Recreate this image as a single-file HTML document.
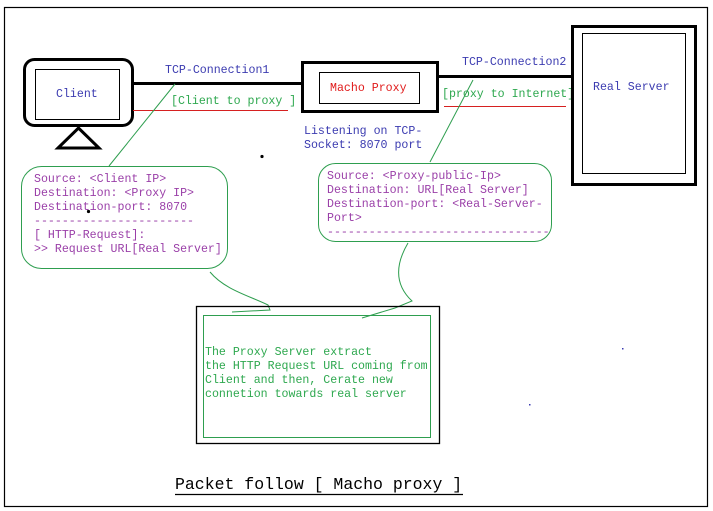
<!DOCTYPE html>
<html><head><meta charset="utf-8"><style>
html,body{margin:0;padding:0;background:#fff;}
svg{display:block;}
text{font-family:"Liberation Mono",monospace;font-size:11.6px;}
.b{fill:#3b3bb0}.g{fill:#2ea84f}.p{fill:#9a3fa8}.r{fill:#e01b1b}
</style></head><body>
<svg width="713" height="511" viewBox="0 0 713 511" xmlns="http://www.w3.org/2000/svg">
<rect x="0" y="0" width="713" height="511" fill="#fff"/>
<rect x="4.5" y="7.5" width="703" height="499" fill="none" stroke="#000" stroke-width="1.2"/>
<rect x="24.5" y="59.5" width="108" height="66" rx="10" fill="none" stroke="#000" stroke-width="3"/>
<rect x="35.5" y="69.5" width="84" height="50" fill="none" stroke="#000" stroke-width="1"/>
<polygon points="58,148 99,148 78.5,128" fill="none" stroke="#000" stroke-width="3"/>
<text x="56" y="97" class="b">Client</text>
<line x1="133" y1="83.5" x2="302" y2="83.5" stroke="#000" stroke-width="3"/>
<text x="165" y="73" class="b">TCP-Connection1</text>
<text x="171" y="104" class="g">[Client to proxy ]</text>
<line x1="133" y1="110.5" x2="288" y2="110.5" stroke="#d62020" stroke-width="1"/>
<rect x="302.5" y="62.5" width="135" height="49" fill="none" stroke="#000" stroke-width="3"/>
<rect x="319.5" y="72.5" width="100" height="31" fill="none" stroke="#000" stroke-width="1"/>
<text x="330" y="91" class="r">Macho Proxy</text>
<line x1="438" y1="76.5" x2="572" y2="76.5" stroke="#000" stroke-width="3"/>
<text x="462" y="65" class="b">TCP-Connection2</text>
<text x="442" y="97" class="g">[proxy to Internet]</text>
<line x1="444" y1="106.5" x2="566" y2="106.5" stroke="#d62020" stroke-width="1"/>
<text x="304" y="134" class="b">Listening on TCP-</text>
<text x="304" y="148" class="b">Socket: 8070 port</text>
<rect x="572.5" y="26.5" width="123" height="158" fill="none" stroke="#000" stroke-width="3"/>
<rect x="582.5" y="33.5" width="103" height="140" fill="none" stroke="#000" stroke-width="1"/>
<text x="593" y="90" class="b">Real Server</text>
<line x1="175" y1="84" x2="109" y2="166" stroke="#2e9e4f" stroke-width="1"/>
<rect x="21.5" y="166.5" width="206" height="102" rx="20" fill="#fff" stroke="#2e9e4f" stroke-width="1"/>
<text x="34" y="182" class="p">Source: &lt;Client IP&gt;</text>
<text x="34" y="196" class="p">Destination: &lt;Proxy IP&gt;</text>
<text x="34" y="210" class="p">Destination-port: 8070</text>
<text x="34" y="224" class="p">-----------------------</text>
<text x="34" y="238" class="p">[ HTTP-Request]:</text>
<text x="34" y="252" class="p">&gt;&gt; Request URL[Real Server]</text>
<circle cx="88.5" cy="211.5" r="1.6" fill="#000"/>
<circle cx="262" cy="156.5" r="1.6" fill="#000"/>
<line x1="473" y1="80" x2="430" y2="162" stroke="#2e9e4f" stroke-width="1"/>
<rect x="318.5" y="163.5" width="233" height="78" rx="17" fill="#fff" stroke="#2e9e4f" stroke-width="1"/>
<text x="327" y="179" class="p">Source: &lt;Proxy-public-Ip&gt;</text>
<text x="327" y="193" class="p">Destination: URL[Real Server]</text>
<text x="327" y="207" class="p">Destination-port: &lt;Real-Server-</text>
<text x="327" y="221" class="p">Port&gt;</text>
<text x="327" y="235" class="p">--------------------------------</text>
<path d="M210,272 C225,290 250,296 268,305 L270,310 L232,312" fill="none" stroke="#2e9e4f" stroke-width="1"/>
<path d="M408,243 C395,265 395,285 412,301 L395,308 L362,318" fill="none" stroke="#2e9e4f" stroke-width="1"/>
<rect x="196.5" y="306.5" width="243" height="137" fill="none" stroke="#000" stroke-width="1.3"/>
<rect x="203.5" y="315.5" width="227" height="122" fill="none" stroke="#2e9e4f" stroke-width="1"/>
<text x="205" y="355" class="g">The Proxy Server extract</text>
<text x="205" y="369" class="g">the HTTP Request URL coming from</text>
<text x="205" y="383" class="g">Client and then, Cerate  new</text>
<text x="205" y="397" class="g">connetion towards real server</text>
<rect x="622" y="348" width="1.5" height="1.5" fill="#3b3bb0"/>
<rect x="529" y="404" width="1.5" height="1.5" fill="#3b3bb0"/>
<text x="175" y="489" fill="#000" style="font-size:16.5px;">Packet follow [ Macho proxy ]</text>
<line x1="175" y1="494.5" x2="463" y2="494.5" stroke="#000" stroke-width="1.3"/>
</svg>
</body></html>
